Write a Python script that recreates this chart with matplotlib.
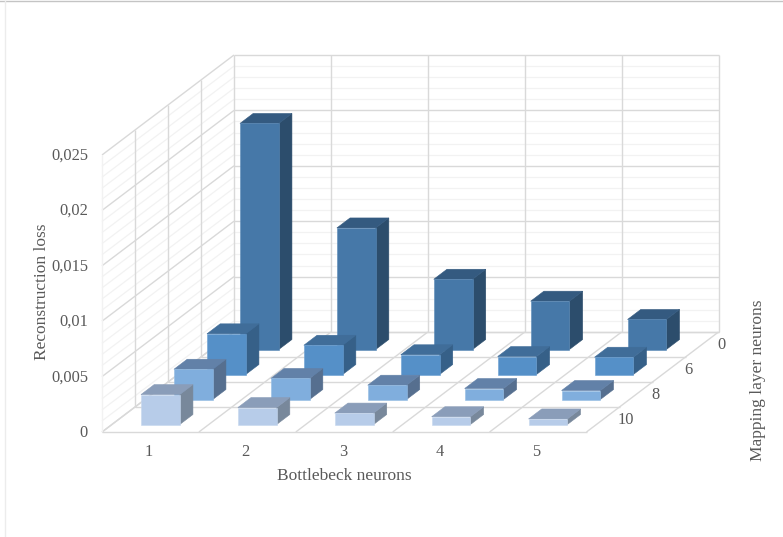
import matplotlib
matplotlib.use("Agg")
import matplotlib.pyplot as plt
from matplotlib.patches import Polygon

plt.rcParams['font.family'] = ['Liberation Serif', 'DejaVu Serif']

# Loss per bottleneck size, one list per mapping-layer size
bottleneck_labels = ['1', '2', '3', '4', '5']
mapping_labels = ['10', '8', '6', '0']
loss_map_10 = [0.00270, 0.00153, 0.00103, 0.00070, 0.00050]
loss_map_8 = [0.00273, 0.00190, 0.00129, 0.00099, 0.00081]
loss_map_6 = [0.00367, 0.00264, 0.00178, 0.00162, 0.00156]
loss_map_0 = [0.02040, 0.01097, 0.00634, 0.00436, 0.00271]
value_ticks = [0, 0.005, 0.01, 0.015, 0.02, 0.025]
value_tick_labels = ['0', '0,005', '0,01', '0,015', '0,02', '0,025']

series = [loss_map_10, loss_map_8, loss_map_6, loss_map_0]
# (front, side, top, front edge) colours, nearest row first
face_colours = [
    ('#b7cce9', '#78889b', '#8a9db9', '#c6d7ee'),
    ('#80aedd', '#566f8f', '#6281a8', '#93bce4'),
    ('#5590c8', '#366088', '#406d99', '#6a9fd2'),
    ('#4678a8', '#2c4d6c', '#345a80', '#5a8ab8'),
]

# Oblique projection of the chart box onto the canvas
ORIGIN_X, ORIGIN_Y = 102.0, 432.0
CAT_W = 96.9
DEPTH_DX, DEPTH_DY = 33.0, -25.0
PX_PER_UNIT = 277.0 / 0.025
MAJOR = '#d9d9d9'
MINOR = '#f2f2f2'
TEXT = '#595959'
TICK_SIZE = 11.8
TITLE_SIZE = 12.5


def project(cat, depth, value):
    return (ORIGIN_X + cat * CAT_W + depth * DEPTH_DX,
            ORIGIN_Y + depth * DEPTH_DY - value * PX_PER_UNIT)


def wall_line(p, q, colour, lw):
    ax.plot([p[0], q[0]], [p[1], q[1]], color=colour, lw=lw,
            solid_capstyle='butt', zorder=1)


fig = plt.figure(figsize=(7.83, 5.37), dpi=100)
ax = fig.add_axes([0, 0, 1, 1])
ax.set_xlim(0, 783)
ax.set_ylim(537, 0)
ax.axis('off')

# Chart frame
ax.plot([0, 783], [1, 1], color='#c4c4c4', lw=1.0, zorder=0)
ax.plot([4.5, 4.5], [1, 537], color='#ececec', lw=1.0, zorder=0)

n_cat = len(bottleneck_labels)
n_depth = len(mapping_labels)
top_value = value_ticks[-1]

# Minor, then major, value gridlines on the side and back walls
for is_major, colour, lw in ((False, MINOR, 0.9), (True, MAJOR, 1.0)):
    for i in range(26):
        if (i % 5 == 0) != is_major:
            continue
        v = i * 0.001
        wall_line(project(0, 0, v), project(0, n_depth, v), colour, lw)
        wall_line(project(0, n_depth, v), project(n_cat, n_depth, v), colour, lw)

# Vertical wall lines and floor lines
for c in range(n_cat + 1):
    wall_line(project(c, n_depth, 0), project(c, n_depth, top_value), MAJOR, 1.0)
    wall_line(project(c, 0, 0), project(c, n_depth, 0), MAJOR, 1.0)
for d in range(n_depth + 1):
    if d < n_depth:
        wall_line(project(0, d, 0), project(0, d, top_value), MAJOR if d else MINOR, 1.0)
    wall_line(project(0, d, 0), project(n_cat, d, 0), MAJOR, 1.0)

# Bars, painted from the back row to the front row
z = 2
for d in reversed(range(n_depth)):
    front, side, top, rim = face_colours[d]
    for c, value in enumerate(series[d]):
        x0, x1 = c + 0.3, c + 0.7
        d0, d1 = d + 0.3, d + 0.7
        faces = [
            ([(x1, d0, 0), (x1, d1, 0), (x1, d1, value), (x1, d0, value)], side, side),
            ([(x0, d0, value), (x1, d0, value), (x1, d1, value), (x0, d1, value)], top, top),
            ([(x0, d0, 0), (x1, d0, 0), (x1, d0, value), (x0, d0, value)], front, rim),
        ]
        for corners, colour, edge in faces:
            ax.add_patch(Polygon([project(*p) for p in corners], closed=True,
                                 facecolor=colour, edgecolor=edge,
                                 lw=0.4, zorder=z))
        z += 1

# Tick labels
for v, label in zip(value_ticks, value_tick_labels):
    x, y = project(0, 0, v)
    ax.text(x - 14, y + 0.7, label, ha='right', va='center', fontsize=TICK_SIZE, color=TEXT)
for c, label in enumerate(bottleneck_labels):
    x, y = project(c + 0.5, 0, 0)
    ax.text(x - 1.5, y + 19.5, label, ha='center', va='center', fontsize=TICK_SIZE, color=TEXT)
for d, label in enumerate(mapping_labels):
    x, y = project(n_cat, d + 0.5, 0)
    ax.text(x + 15, y + 0.7, label, ha='left', va='center', fontsize=TICK_SIZE, color=TEXT)

# Axis titles
ax.text(344, 475.5, 'Bottlebeck neurons', ha='center', va='center', fontsize=TITLE_SIZE, color=TEXT)
ax.text(41.5, 292, 'Reconstruction loss', ha='center', va='center', rotation=90,
        fontsize=TITLE_SIZE, color=TEXT)
ax.text(758.5, 380, 'Mapping layer neurons', ha='center', va='center', rotation=90,
        fontsize=TITLE_SIZE, color=TEXT)

fig.savefig('out.png', dpi=100)
